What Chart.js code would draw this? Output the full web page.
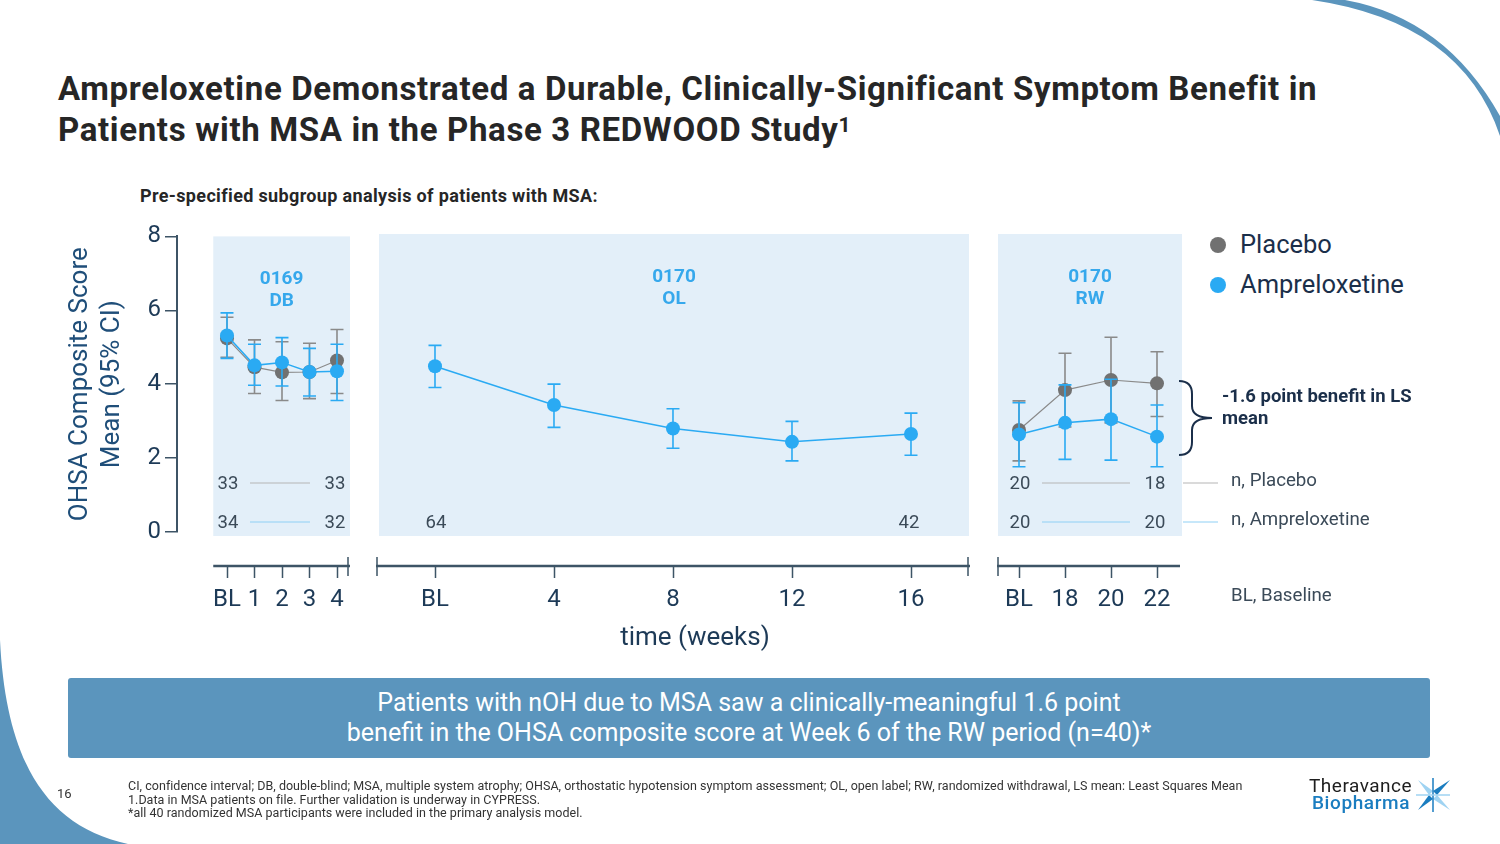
<!DOCTYPE html>
<html><head><meta charset="utf-8">
<script src="https://cdn.jsdelivr.net/npm/chart.js@4.4.1/dist/chart.umd.min.js"></script>
<style>
html,body{margin:0;padding:0}
body{width:1500px;height:844px;overflow:hidden;background:#fff;font-family:Roboto,"Noto Sans",sans-serif;position:relative}
.abs{position:absolute}
#title{left:58px;top:68px;font-size:33px;font-weight:700;color:#262626;line-height:41px;letter-spacing:0.65px;white-space:nowrap}
#title sup{font-size:21px;vertical-align:top;position:relative;top:-4px;letter-spacing:0}
#sub{left:140px;top:185px;font-size:18px;font-weight:700;color:#262626;letter-spacing:0.35px;white-space:nowrap}
canvas{position:absolute}
.leg{font-size:25.5px;color:#1b2f4a;white-space:nowrap;line-height:28px}
.dot{width:16px;height:16px;border-radius:50%}
.small{font-size:18.7px;color:#3b4a58;white-space:nowrap;line-height:20px}
#bene{left:1222px;top:385px;font-size:18.5px;font-weight:700;color:#1b2f4a;line-height:22px;white-space:nowrap}
#xt{left:545px;top:621px;width:300px;text-align:center;font-size:26px;color:#1d3a57}
#box{left:68px;top:678px;width:1362px;height:80px;background:#5b95bd;border-radius:3px;color:#fff;font-size:25px;line-height:30px;text-align:center;display:flex;align-items:center;justify-content:center}
#pg{left:57px;top:786px;font-size:13px;color:#333}
#foot{left:128px;top:779px;font-size:12.5px;line-height:13.5px;color:#333;white-space:nowrap;letter-spacing:0.03px}
#logo1{left:1309px;top:777px;font-size:19px;color:#1e1e1e;white-space:nowrap;line-height:18px;letter-spacing:0.5px}
#logo2{left:1312px;top:794px;font-size:19px;color:#1a7dc0;white-space:nowrap;line-height:18px;font-weight:500;letter-spacing:0.6px}
</style></head>
<body>
<svg class="abs" style="left:0;top:0" width="1500" height="844">
  <path d="M1312,0 Q1462,22 1500,136 L1500,116 Q1445,18 1345,0 Z" fill="#5b95bd"/>
  <path d="M0,640 C6,760 45,826 128,844 L0,844 Z" fill="#5b95bd"/>
</svg>
<div id="title" class="abs">Ampreloxetine Demonstrated a Durable, Clinically-Significant Symptom Benefit in<br>Patients with MSA in the Phase 3 REDWOOD Study<sup>1</sup></div>
<div id="sub" class="abs">Pre-specified subgroup analysis of patients with MSA:</div>

<canvas id="c1" width="320" height="434" style="left:40px;top:218px;width:320px;height:434px"></canvas>
<canvas id="c2" width="610" height="434" style="left:369px;top:218px;width:610px;height:434px"></canvas>
<canvas id="c3" width="204" height="434" style="left:988px;top:218px;width:204px;height:434px"></canvas>

<div class="abs dot" style="left:1210px;top:237px;background:#717171"></div>
<div class="abs leg" style="left:1240px;top:230px">Placebo</div>
<div class="abs dot" style="left:1210px;top:277px;background:#2aaaf3"></div>
<div class="abs leg" style="left:1240px;top:270px">Ampreloxetine</div>

<svg class="abs" style="left:0;top:0" width="1500" height="844">
  <path d="M1179,381 Q1192,381 1192,394 L1192,406 Q1192,418 1212,418 Q1192,418 1192,430 L1192,442 Q1192,455 1179,455" fill="none" stroke="#1b2f4a" stroke-width="2"/>
  <line x1="1183" y1="483" x2="1218" y2="483" stroke="#b5b5b5" stroke-width="1"/>
  <line x1="1183" y1="522" x2="1218" y2="522" stroke="#8fd0f5" stroke-width="1"/>
</svg>
<div id="bene" class="abs">-1.6 point benefit in LS<br>mean</div>
<div class="abs small" style="left:1231px;top:470px">n, Placebo</div>
<div class="abs small" style="left:1231px;top:509px">n, Ampreloxetine</div>
<div class="abs small" style="left:1231px;top:585px">BL, Baseline</div>
<div id="xt" class="abs">time (weeks)</div>

<div id="box" class="abs"><div>Patients with nOH due to MSA saw a clinically-meaningful 1.6 point<br>benefit in the OHSA composite score at Week 6 of the RW period (n=40)*</div></div>
<div id="pg" class="abs">16</div>
<div id="foot" class="abs">CI, confidence interval; DB, double-blind; MSA, multiple system atrophy; OHSA, orthostatic hypotension symptom assessment; OL, open label; RW, randomized withdrawal, LS mean: Least Squares Mean<br>1.Data in MSA patients on file. Further validation is underway in CYPRESS.<br>*all 40 randomized MSA participants were included in the primary analysis model.</div>
<div id="logo1" class="abs">Theravance</div>
<div id="logo2" class="abs">Biopharma</div>
<svg class="abs" style="left:1416px;top:778px" width="38" height="34">
  <polygon points="2,2 17,13 13,17" fill="#9fd3f2"/>
  <polygon points="34,2 21,17 17,13" fill="#1a7dc0"/>
  <polygon points="2,32 13,17 17,21" fill="#1a7dc0"/>
  <polygon points="34,32 17,21 21,17" fill="#9fd3f2"/>
  <line x1="17" y1="0" x2="17" y2="34" stroke="#1a7dc0" stroke-width="1.5"/>
  <line x1="0" y1="17" x2="34" y2="17" stroke="#9fd3f2" stroke-width="1.5"/>
</svg>

<script>
// ---------------- DATA ----------------
// Period 0169 DB (weeks 0..4; 0 = baseline)
const dbWeeks = [0, 1, 2, 3, 4];
const dbTickLabels = ['BL', '1', '2', '3', '4'];
const dbPlacebo   = [5.24, 4.46, 4.32, 4.33, 4.64];
const dbPlaceboLo = [4.73, 3.75, 3.56, 3.61, 3.75];
const dbPlaceboHi = [5.81, 5.20, 5.15, 5.11, 5.48];
const dbAmp       = [5.32, 4.51, 4.59, 4.33, 4.35];
const dbAmpLo     = [4.70, 3.97, 3.95, 3.68, 3.56];
const dbAmpHi     = [5.93, 5.08, 5.26, 4.97, 5.08];
const dbNPlacebo  = [33, 33];
const dbNAmp      = [34, 32];

// Period 0170 OL (weeks 0..16)
const olWeeks = [0, 4, 8, 12, 16];
const olTickLabels = ['BL', '4', '8', '12', '16'];
const olAmp   = [4.45, 3.41, 2.78, 2.42, 2.63];
const olAmpLo = [3.88, 2.81, 2.25, 1.91, 2.06];
const olAmpHi = [5.01, 3.97, 3.31, 2.97, 3.19];
const olNAmp  = [64, 42];

// Period 0170 RW (weeks 16..22; 16 = RW baseline)
const rwWeeks = [16, 18, 20, 22];
const rwTickLabels = ['BL', '18', '20', '22'];
const rwPlacebo   = [2.74, 3.81, 4.08, 3.99];
const rwPlaceboLo = [1.91, 2.82, 2.93, 3.10];
const rwPlaceboHi = [3.52, 4.80, 5.23, 4.84];
const rwAmp       = [2.62, 2.93, 3.03, 2.56];
const rwAmpLo     = [1.75, 1.95, 1.93, 1.75];
const rwAmpHi     = [3.47, 3.95, 4.10, 3.41];
const rwNPlacebo  = [20, 18];
const rwNAmp      = [20, 20];

const yTicks = [0, 2, 4, 6, 8];

// ---------------- STYLE ----------------
const AMP = '#2aaaf3', PLA = '#717171', PLA_LINE = '#8a8a8a';
const AXIS = '#3d5466', TXT = '#1d3a57';
Chart.defaults.font.family = 'Roboto, "Noto Sans", sans-serif';

const pts = (xs, ys) => xs.map((x, i) => ({x, y: ys[i]}));

// error bars drawn right before each dataset, via the y scale
const errorBars = {
  id: 'errorBars',
  beforeDatasetDraw(chart, args) {
    const ds = chart.data.datasets[args.index];
    if (!ds.errLo) return;
    const ctx = chart.ctx, ys = chart.scales.y;
    ctx.save();
    ctx.strokeStyle = ds.errColor;
    ctx.lineWidth = 1.6;
    args.meta.data.forEach((p, i) => {
      const y1 = ys.getPixelForValue(ds.errLo[i]);
      const y2 = ys.getPixelForValue(ds.errHi[i]);
      ctx.beginPath();
      ctx.moveTo(p.x, y1); ctx.lineTo(p.x, y2);
      ctx.moveTo(p.x - 6.5, y1); ctx.lineTo(p.x + 6.5, y1);
      ctx.moveTo(p.x - 6.5, y2); ctx.lineTo(p.x + 6.5, y2);
      ctx.stroke();
    });
    ctx.restore();
  }
};

// shaded period panel, header, n rows, separated bottom axis
const panel = {
  id: 'panel',
  beforeDatasetsDraw(chart, args, o) {
    const {ctx, chartArea: a} = chart;
    const sx = o.shadeFrom != null ? chart.scales.x.getPixelForValue(o.shadeFrom) : a.left;
    ctx.save();
    ctx.fillStyle = '#e3eff9';
    ctx.fillRect(sx, a.top, a.right - sx, a.bottom - a.top + 4);
    const cx = (sx + a.right) / 2;
    ctx.fillStyle = '#36a8ec';
    ctx.font = 'bold 19px Roboto';
    ctx.textAlign = 'center'; ctx.textBaseline = 'middle';
    ctx.fillText(o.header[0], cx, a.top + 43);
    ctx.fillText(o.header[1], cx, a.top + 65);
    // n rows
    const xs = chart.scales.x;
    const w = o.weeks;
    const x0 = xs.getPixelForValue(w[0]), x1 = xs.getPixelForValue(w[w.length - 1]);
    const rows = [[o.nPlacebo, a.bottom - 49, '#b5b5b5'], [o.nAmp, a.bottom - 10, '#8fd0f5']];
    ctx.font = '18.5px Roboto';
    rows.forEach(([n, y, lc]) => {
      if (!n) return;
      ctx.fillStyle = '#3b4a58';
      ctx.fillText(String(n[0]), x0 + 1, y + 1);
      ctx.fillText(String(n[1]), x1 - 2, y + 1);
      if (o.nLines) {
        ctx.strokeStyle = lc; ctx.lineWidth = 1;
        ctx.beginPath(); ctx.moveTo(x0 + 23, y); ctx.lineTo(x1 - 27, y); ctx.stroke();
      }
    });
    ctx.restore();
  },
  afterDraw(chart, args, o) {
    const {ctx, chartArea: a} = chart;
    const xs = chart.scales.x;
    const ay = a.bottom + 34;
    const start = o.shadeFrom != null ? xs.getPixelForValue(o.shadeFrom) : a.left + o.axisExt[0];
    const end = a.right + o.axisExt[1];
    ctx.save();
    ctx.strokeStyle = AXIS;
    ctx.lineWidth = 2.4;
    ctx.beginPath(); ctx.moveTo(start, ay); ctx.lineTo(end, ay); ctx.stroke();
    ctx.lineWidth = 1.5;
    ctx.beginPath();
    xs.ticks.forEach(t => {
      const px = Math.round(xs.getPixelForValue(t.value)) + 0.5;
      ctx.moveTo(px, ay); ctx.lineTo(px, ay + 12);
    });
    if (o.breakLeft) { ctx.moveTo(start + 1, ay - 9); ctx.lineTo(start + 1, ay + 10); }
    if (o.breakRight) { ctx.moveTo(end - 2, ay - 9); ctx.lineTo(end - 2, ay + 10); }
    ctx.stroke();
    ctx.restore();
  }
};

function makeDatasets(weeks, amp, ampLo, ampHi, pla, plaLo, plaHi) {
  const ds = [{
    label: 'Ampreloxetine', data: pts(weeks, amp), errLo: ampLo, errHi: ampHi, errColor: AMP,
    borderColor: AMP, borderWidth: 1.5, pointBackgroundColor: AMP, pointBorderWidth: 0,
    pointRadius: 7, pointHoverRadius: 7, tension: 0
  }];
  if (pla) ds.push({
    label: 'Placebo', data: pts(weeks, pla), errLo: plaLo, errHi: plaHi, errColor: PLA_LINE,
    borderColor: PLA_LINE, borderWidth: 1.2, pointBackgroundColor: PLA, pointBorderWidth: 0,
    pointRadius: 7, pointHoverRadius: 7, tension: 0
  });
  return ds;
}

function xScale(weeks, labels, min, max) {
  return {
    type: 'linear', min, max,
    afterBuildTicks: s => { s.ticks = weeks.map(v => ({value: v})); },
    afterFit: s => { s.height = 120; },
    grid: {display: false, drawTicks: true, tickLength: 50},
    border: {display: false},
    ticks: {
      autoSkip: false, maxRotation: 0, padding: 4, color: TXT,
      font: {size: 24},
      callback: v => labels[weeks.indexOf(v)]
    }
  };
}

function baseOptions(xs, ys, panelOpts, padding) {
  return {
    responsive: false, animation: false,
    layout: {padding},
    scales: {x: xs, y: ys},
    plugins: {legend: {display: false}, tooltip: {enabled: false}, panel: panelOpts}
  };
}

const hiddenY = {min: 0, max: 8, display: false};

// DB chart with the y axis
new Chart(document.getElementById('c1'), {
  type: 'line',
  data: {datasets: makeDatasets(dbWeeks, dbAmp, dbAmpLo, dbAmpHi, dbPlacebo, dbPlaceboLo, dbPlaceboHi)},
  plugins: [errorBars, panel],
  options: baseOptions(
    xScale(dbWeeks, dbTickLabels, -1.818, 4.473),
    {
      min: 0, max: 8,
      afterBuildTicks: s => { s.ticks = yTicks.map(v => ({value: v})); },
      afterFit: s => { s.width = 137; },
      border: {display: true, color: AXIS, width: 2},
      grid: {drawOnChartArea: false, drawTicks: true, tickLength: 12, color: AXIS, lineWidth: 1.5},
      ticks: {color: TXT, font: {size: 24}, padding: 4},
      title: {
        display: true, text: ['OHSA Composite Score', 'Mean (95% CI)'],
        color: '#1f4e79', font: {size: 26, lineHeight: 1.23}, padding: {top: 25, bottom: 0}
      }
    },
    {header: ['0169', 'DB'], weeks: dbWeeks, nPlacebo: dbNPlacebo, nAmp: dbNAmp, nLines: true,
     shadeFrom: -0.5, axisExt: [0, 0], breakRight: true},
    {top: 16, left: 0, right: 10, bottom: 0}
  )
});

// OL chart
new Chart(document.getElementById('c2'), {
  type: 'line',
  data: {datasets: makeDatasets(olWeeks, olAmp, olAmpLo, olAmpHi)},
  plugins: [errorBars, panel],
  options: baseOptions(
    xScale(olWeeks, olTickLabels, -1.882, 17.95), hiddenY,
    {header: ['0170', 'OL'], weeks: olWeeks, nPlacebo: null, nAmp: olNAmp, nLines: false,
     axisExt: [-3, 1], breakLeft: true, breakRight: true},
    {top: 16, left: 10, right: 10, bottom: 0}
  )
});

// RW chart
new Chart(document.getElementById('c3'), {
  type: 'line',
  data: {datasets: makeDatasets(rwWeeks, rwAmp, rwAmpLo, rwAmpHi, rwPlacebo, rwPlaceboLo, rwPlaceboHi)},
  plugins: [errorBars, panel],
  options: baseOptions(
    xScale(rwWeeks, rwTickLabels, 15.087, 23.087), hiddenY,
    {header: ['0170', 'RW'], weeks: rwWeeks, nPlacebo: rwNPlacebo, nAmp: rwNAmp, nLines: true,
     axisExt: [-1, -2], breakLeft: true},
    {top: 16, left: 10, right: 10, bottom: 0}
  )
});
</script>
</body></html>
